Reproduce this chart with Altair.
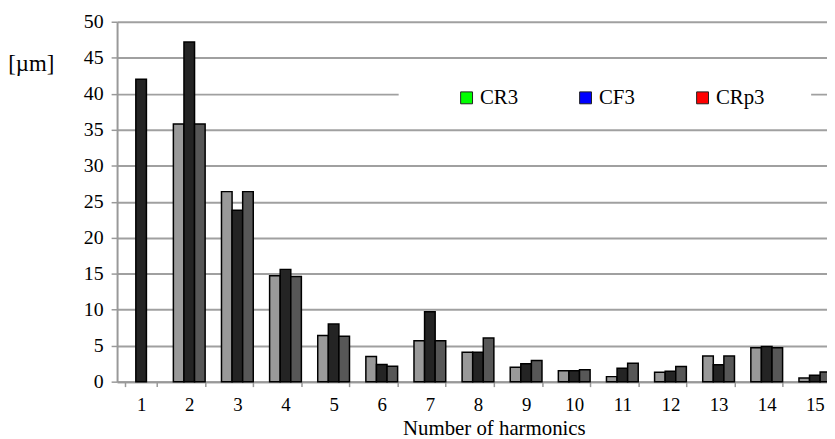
import altair as alt
import pandas as pd

harmonics = [str(i) for i in range(1, 16)]
series = ["CR3", "CF3", "CRp3"]
cr3 = [None, 35.8, 26.4, 14.7, 6.4, 3.5, 5.7, 4.1, 2.0, 1.5, 0.7, 1.3, 3.55, 4.7, 0.5]
cf3 = [42.0, 47.2, 23.8, 15.6, 8.0, 2.4, 9.7, 4.1, 2.5, 1.5, 1.85, 1.45, 2.35, 4.9, 0.9]
crp3 = [None, 35.8, 26.4, 14.6, 6.3, 2.15, 5.7, 6.05, 2.95, 1.65, 2.55, 2.1, 3.55, 4.7, 1.35]
bar_grays = ["#999999", "#242424", "#575757"]
legend_colors = ["#00ff00", "#0000ff", "#ff0000"]
y_ticks = list(range(0, 51, 5))

rows = []
for name, vals in zip(series, [cr3, cf3, crp3]):
    for h, v in zip(harmonics, vals):
        if v is not None:
            rows.append({"harmonic": h, "series": name, "value": v})
df = pd.DataFrame(rows)
legdf = pd.DataFrame({"name": series})
blank = pd.DataFrame({"a": [0]})

FONT = "Liberation Serif"

bars = alt.Chart(df).mark_bar(stroke="black", strokeWidth=1.5).encode(
    x=alt.X(
        "harmonic:N",
        sort=harmonics,
        scale=alt.Scale(paddingInner=0.34, paddingOuter=0.17),
        axis=alt.Axis(
            title="Number of harmonics",
            labelAngle=0,
            tickBand="extent",
            tickSize=5,
            tickColor="#999999",
            tickWidth=1.5,
            domainColor="#999999",
            domainWidth=2,
            labelFont=FONT,
            labelFontSize=19,
            labelColor="black",
            labelPadding=9,
            labelOverlap=False,
            titleFont=FONT,
            titleFontSize=21,
            titleFontWeight="normal",
            titleColor="black",
            titleX=380,
            titleY=53,
            titleBaseline="alphabetic",
            titleAlign="center",
        ),
    ),
    xOffset=alt.XOffset("series:N", sort=series, scale=alt.Scale(domain=series, paddingInner=0, paddingOuter=0)),
    y=alt.Y(
        "value:Q",
        scale=alt.Scale(domain=[0, 50], nice=False),
        axis=alt.Axis(
            values=y_ticks,
            title="[µm]",
            titleAngle=0,
            titleX=-87,
            titleY=42,
            titleAlign="center",
            titleBaseline="middle",
            titleFont=FONT,
            titleFontSize=23,
            titleFontWeight="normal",
            titleColor="black",
            grid=True,
            gridColor="#a0a0a0",
            gridWidth=2,
            domainColor="#999999",
            domainWidth=2,
            tickColor="#999999",
            tickWidth=1.5,
            tickSize=6,
            labelFont=FONT,
            labelFontSize=20,
            labelColor="black",
            labelPadding=8,
            labelOverlap=False,
        ),
    ),
    color=alt.Color("series:N", sort=series, scale=alt.Scale(domain=series, range=bar_grays), legend=None),
)

gap = alt.Chart(blank).mark_rect(color="white").encode(
    x=alt.value(284), x2=alt.value(700), y=alt.value(64), y2=alt.value(82)
)

leg = alt.Chart(legdf).mark_square(opacity=0, size=0).encode(
    x=alt.value(0),
    y=alt.value(0),
    color=alt.Color(
        "name:N",
        sort=series,
        scale=alt.Scale(domain=series, range=legend_colors),
        legend=alt.Legend(
            title=None,
            orient="none",
            legendX=342,
            legendY=66,
            direction="horizontal",
            symbolType="square",
            symbolSize=144,
            symbolOpacity=1,
            symbolStrokeColor="#222222",
            symbolStrokeWidth=1,
            labelFont=FONT,
            labelFontSize=21,
            labelColor="black",
            labelOffset=3,
            columnPadding=57,
            padding=0,
        ),
    ),
)

chart = alt.layer(bars, gap, leg).resolve_scale(color="independent").properties(
    width=728,
    height=363,
    autosize=alt.AutoSizeParams(type="none"),
    padding={"left": 110, "top": 12, "right": -12, "bottom": 60},
).configure_view(stroke=None)

chart.save("out.html", embed_options={"renderer": "svg", "actions": False})
